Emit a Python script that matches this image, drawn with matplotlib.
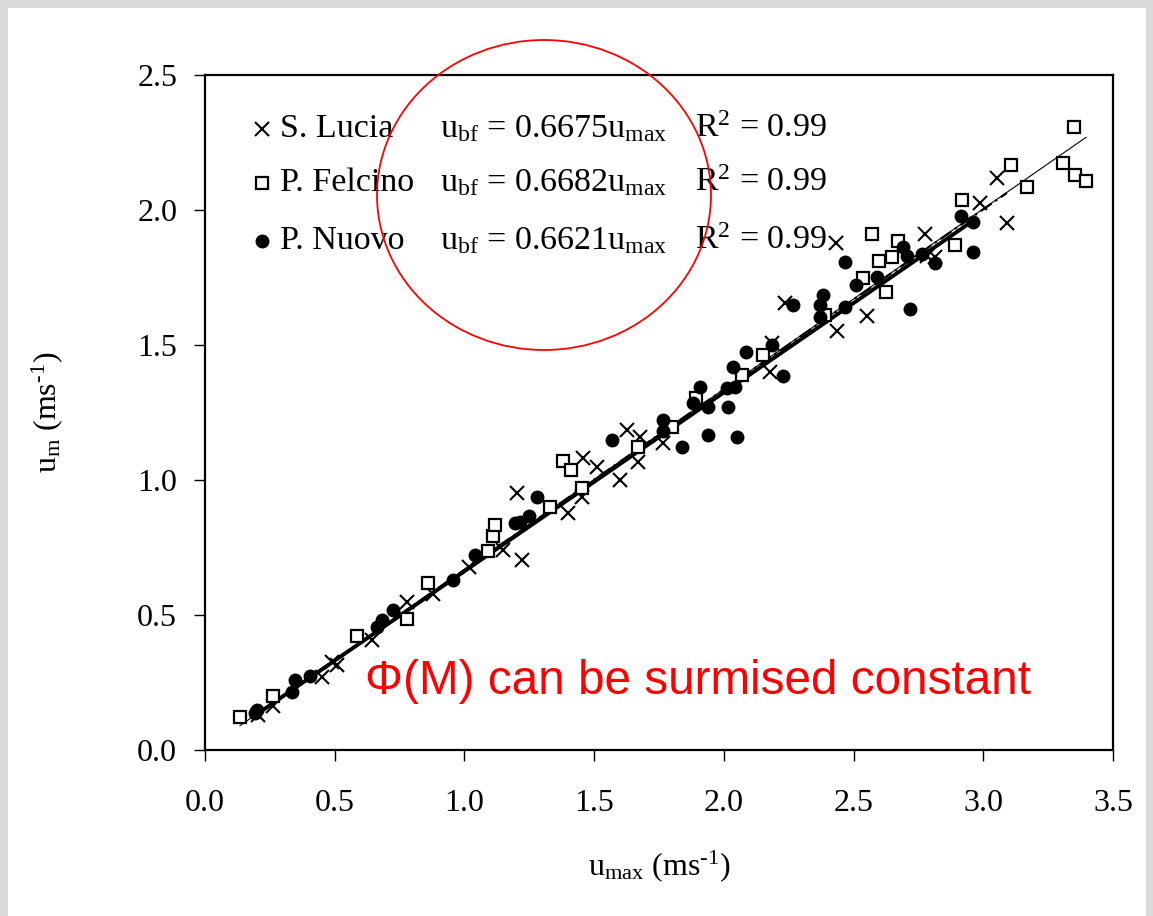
import matplotlib
matplotlib.use("Agg")
import matplotlib.pyplot as plt
from matplotlib.patches import Rectangle, Ellipse
import numpy as np

# ---------------- data ----------------
series_names = ["S. Lucia", "P. Felcino", "P. Nuovo"]
slopes = [0.6675, 0.6682, 0.6621]
r2_values = [0.99, 0.99, 0.99]

lucia_x = [0.204, 0.262, 0.451, 0.490, 0.509, 0.644, 0.779, 0.879, 1.018, 1.149,
           1.203, 1.222, 1.399, 1.457, 1.453, 1.511, 1.600, 1.627, 1.669, 1.677,
           1.765, 2.178, 2.186, 2.236, 2.432, 2.436, 2.552, 2.775, 2.783, 2.814,
           2.987, 3.053, 3.091]
lucia_y = [0.130, 0.163, 0.270, 0.326, 0.315, 0.407, 0.548, 0.578, 0.678, 0.741,
           0.952, 0.704, 0.878, 1.081, 0.937, 1.048, 1.000, 1.185, 1.067, 1.159,
           1.137, 1.400, 1.507, 1.656, 1.878, 1.552, 1.607, 1.911, 1.830, 1.826,
           2.026, 2.119, 1.952]

felcino_x = [0.135, 0.262, 0.586, 0.779, 0.860, 1.091, 1.110, 1.118, 1.330, 1.380,
             1.411, 1.453, 1.669, 1.800, 1.893, 2.070, 2.151, 2.390, 2.536, 2.598,
             2.625, 2.571, 2.648, 2.671, 2.891, 2.918, 3.107, 3.168, 3.307, 3.350,
             3.354, 3.396]
felcino_y = [0.122, 0.200, 0.422, 0.485, 0.619, 0.737, 0.793, 0.833, 0.900, 1.070,
             1.037, 0.970, 1.122, 1.196, 1.304, 1.389, 1.463, 1.611, 1.748, 1.811,
             1.696, 1.911, 1.826, 1.885, 1.870, 2.037, 2.167, 2.085, 2.174, 2.307,
             2.130, 2.107]

nuovo_x = [0.193, 0.200, 0.335, 0.347, 0.405, 0.663, 0.682, 0.725, 0.956, 1.041,
           1.195, 1.214, 1.249, 1.280, 1.569, 1.765, 1.765, 1.839, 1.881, 1.908,
           1.939, 1.939, 2.016, 2.012, 2.043, 2.035, 2.051, 2.085, 2.186, 2.228,
           2.267, 2.371, 2.382, 2.371, 2.467, 2.467, 2.509, 2.590, 2.691, 2.706,
           2.718, 2.764, 2.814, 2.914, 2.960, 2.960]
nuovo_y = [0.137, 0.148, 0.215, 0.259, 0.274, 0.456, 0.481, 0.519, 0.630, 0.722,
           0.841, 0.844, 0.867, 0.937, 1.148, 1.222, 1.181, 1.122, 1.285, 1.344,
           1.270, 1.167, 1.270, 1.341, 1.344, 1.419, 1.159, 1.474, 1.500, 1.385,
           1.648, 1.648, 1.685, 1.604, 1.641, 1.807, 1.722, 1.752, 1.863, 1.830,
           1.633, 1.837, 1.804, 1.978, 1.956, 1.844]

xticks = [0.0, 0.5, 1.0, 1.5, 2.0, 2.5, 3.0, 3.5]
yticks = [0.0, 0.5, 1.0, 1.5, 2.0, 2.5]

# ---------------- style ----------------
plt.rcParams['font.family'] = ['Liberation Serif', 'DejaVu Serif']
plt.rcParams['mathtext.fontset'] = 'custom'
plt.rcParams['mathtext.rm'] = 'Liberation Serif'
plt.rcParams['mathtext.it'] = 'Liberation Serif:italic'
plt.rcParams['mathtext.bf'] = 'Liberation Serif:bold'

W, H = 1153, 916
fig = plt.figure(figsize=(W / 100, H / 100), dpi=100)
fig.patch.set_facecolor('#dadada')
fig.add_artist(Rectangle((8 / W, 0), (1146 - 8) / W, (H - 8) / H,
                         transform=fig.transFigure, facecolor='white',
                         edgecolor='none', zorder=-10))

ax_l, ax_r, ax_t, ax_b = 205, 1113, 75, 750
ax = fig.add_axes([ax_l / W, 1 - ax_b / H, (ax_r - ax_l) / W, (ax_b - ax_t) / H])
ax.set_facecolor('white')

xs = [lucia_x, felcino_x, nuovo_x]
ys = [lucia_y, felcino_y, nuovo_y]

# regression lines through origin
line_styles = [dict(color='black', lw=1.6, ls=(0, (6, 2, 1, 2))),
               dict(color='black', lw=0.8, ls='-'),
               dict(color='black', lw=2.8, ls='-')]
for x, s, st in zip(xs, slopes, line_styles):
    xl = np.array([min(x), max(x)])
    ax.plot(xl, s * xl, zorder=3, **st)

# scatter points
ax.plot(lucia_x, lucia_y, ls='none', marker='x', ms=10, mew=1.5, color='black', zorder=4)
ax.plot(felcino_x, felcino_y, ls='none', marker='s', ms=8, mew=1.6,
        mfc='white', mec='black', zorder=4)
ax.plot(nuovo_x, nuovo_y, ls='none', marker='o', ms=9, color='black', zorder=4)

ax.set_xlim(0, 3.5)
ax.set_ylim(0, 2.5)
ax.set_xticks(xticks)
ax.set_yticks(yticks)
ax.set_xticklabels([f"{v:.1f}" for v in xticks])
ax.set_yticklabels([f"{v:.1f}" for v in yticks])
ax.tick_params(axis='both', direction='out', length=8, width=1, labelsize=23)
ax.tick_params(axis='x', pad=20)
ax.tick_params(axis='y', pad=12)
for sp in ax.spines.values():
    sp.set_linewidth(1.6)
    sp.set_color('black')

ax.set_xlabel(r"u$_{\mathrm{max}}$ (ms$^{\text{-1}}$)", fontsize=23, labelpad=22)
ax.set_ylabel(r"u$_{\mathrm{m}}$ (ms$^{\text{-1}}$)", fontsize=23, labelpad=52)

# legend block (manual)
row_y = [(ax_b - 129) / (ax_b - ax_t), (ax_b - 183) / (ax_b - ax_t), (ax_b - 241) / (ax_b - ax_t)]
mk_x = (262 - ax_l) / (ax_r - ax_l)
txt_x = (280 - ax_l) / (ax_r - ax_l)
eq_x = (440 - ax_l) / (ax_r - ax_l)
r2_x = (695 - ax_l) / (ax_r - ax_l)
markers = [dict(marker='x', ms=10, mew=1.5, color='black'),
           dict(marker='s', ms=8, mew=1.6, mfc='white', mec='black'),
           dict(marker='o', ms=9, color='black')]
for yy, name, s, r2, mk in zip(row_y, series_names, slopes, r2_values, markers):
    ax.plot([mk_x], [yy], ls='none', transform=ax.transAxes, clip_on=False, zorder=6, **mk)
    ax.text(txt_x, yy, name, transform=ax.transAxes, fontsize=24.5, va='center', ha='left')
    ax.text(eq_x, yy, r"u$_{\mathrm{bf}}$ = " + f"{s:.4f}" + r"u$_{\mathrm{max}}$",
            transform=ax.transAxes, fontsize=24.5, va='center', ha='left')
    ax.text(r2_x, yy, r"R$^{2}$ = " + f"{r2:.2f}", transform=ax.transAxes,
            fontsize=24.5, va='center', ha='left')

# red annotation
ax.text((365 - ax_l) / (ax_r - ax_l), (ax_b - 681) / (ax_b - ax_t),
        "Φ(M) can be surmised constant", transform=ax.transAxes,
        fontsize=34.3, color='#ff0000', family=['Liberation Sans', 'DejaVu Sans'],
        va='center', ha='left', zorder=7)

fig.add_artist(Ellipse((544 / W, 1 - 195 / H), 334 / W, 310 / H,
                       transform=fig.transFigure, fill=False,
                       edgecolor='#ff0000', lw=1.3, zorder=8))

fig.savefig("out.png", dpi=100, facecolor=fig.get_facecolor())
